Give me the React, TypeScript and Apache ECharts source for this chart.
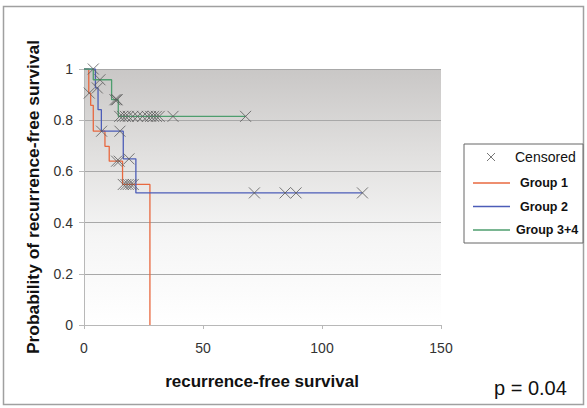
import React, { useEffect, useRef } from "react";
import * as echarts from "echarts";

// Kaplan-Meier step points (time, survival)
const group1Times = [0, 2.0, 2.8, 3.9, 8.8, 10.6, 16.2, 27.7];
const group1Surv = [1, 0.906, 0.858, 0.757, 0.698, 0.64, 0.549, 0];
const group2Times = [0, 4.8, 5.9, 7.3, 16.5, 21.8, 117];
const group2Surv = [1, 0.926, 0.841, 0.757, 0.649, 0.516, 0.516];
const group34Times = [0, 3.9, 11.6, 14.4, 67.9];
const group34Surv = [1, 0.958, 0.88, 0.815, 0.815];

// Censored observations
const cens1Times = [2.2, 13.7, 14.8, 16.5, 17.6, 18.6, 19.7, 20.7];
const cens1Surv = [0.906, 0.64, 0.64, 0.549, 0.549, 0.549, 0.549, 0.549];
const cens2Times = [5.6, 7.4, 15.1, 18.9, 71.6, 84.5, 89.1, 117];
const cens2Surv = [0.926, 0.757, 0.757, 0.649, 0.516, 0.516, 0.516, 0.516];
const cens34Times = [3.9, 6.7, 13.0, 13.7, 13.9, 15.0, 16.2, 17.4, 18.6, 20.5, 22.5, 24.6, 26.6, 28.0, 29.2, 30.4, 31.6, 37.4, 67.9];
const cens34Surv = [1, 0.958, 0.88, 0.88, 0.88, 0.815, 0.815, 0.815, 0.815, 0.815, 0.815, 0.815, 0.815, 0.815, 0.815, 0.815, 0.815, 0.815, 0.815];

const xTicks = [0, 50, 100, 150];
const yTicks = [0, 0.2, 0.4, 0.6, 0.8, 1];

const seriesNames = ["Group 1", "Group 2", "Group 3+4"];
const seriesColors = ["#e8683f", "#4c5db8", "#4e9e6e"];

const zip = (a: number[], b: number[]) => a.map((v, i) => [v, b[i]]);

const FONT = "'Liberation Sans', Arial, sans-serif";

export default function App() {
  const ref = useRef<HTMLDivElement>(null);
  useEffect(() => {
    if (!ref.current) return;
    const chart = echarts.init(ref.current, undefined, { renderer: "svg" });
    const censored = [
      ...zip(cens1Times, cens1Surv),
      ...zip(cens2Times, cens2Surv),
      ...zip(cens34Times, cens34Surv),
    ];
    const lines = [
      zip(group1Times, group1Surv),
      zip(group2Times, group2Surv),
      zip(group34Times, group34Surv),
    ];
    const legendRows = [
      { y: 183, x: 520, name: seriesNames[0], color: seriesColors[0] },
      { y: 206.5, x: 520, name: seriesNames[1], color: seriesColors[1] },
      { y: 230, x: 516, name: seriesNames[2], color: seriesColors[2] },
    ];
    chart.setOption({
      animation: false,
      backgroundColor: "#ffffff",
      textStyle: { fontFamily: FONT },
      grid: {
        left: 84,
        right: 146,
        top: 69,
        bottom: 83,
        show: true,
        borderWidth: 0,
        backgroundColor: new echarts.graphic.LinearGradient(0, 0, 0, 1, [
          { offset: 0, color: "#c9c7c6" },
          { offset: 0.35, color: "#e2e1e0" },
          { offset: 0.65, color: "#f5f5f5" },
          { offset: 1, color: "#ffffff" },
        ]),
      },
      xAxis: {
        type: "value",
        min: 0,
        max: 150,
        interval: 50,
        axisLine: { show: true, lineStyle: { color: "#b8b8b8", width: 1 } },
        axisTick: { show: true, length: 4, lineStyle: { color: "#b8b8b8" } },
        splitLine: { show: false },
        axisLabel: {
          color: "#333",
          fontSize: 14,
          fontFamily: FONT,
          margin: 16,
          formatter: (v: number) => (xTicks.includes(v) ? String(v) : ""),
        },
      },
      yAxis: {
        type: "value",
        min: 0,
        max: 1,
        interval: 0.2,
        axisLine: { show: true, lineStyle: { color: "#b8b8b8", width: 1 } },
        axisTick: { show: true, length: 5, lineStyle: { color: "#b8b8b8" } },
        splitLine: {
          show: true,
          lineStyle: { color: "#a8a8a8", width: 1 },
        },
        axisLabel: {
          color: "#333",
          fontSize: 14,
          fontFamily: FONT,
          margin: 11,
          formatter: (v: number) => {
            const t = yTicks.find((y) => Math.abs(y - v) < 1e-6);
            return t === undefined ? "" : String(Math.round(t * 10) / 10);
          },
        },
      },
      series: [
        ...lines.map((d, i) => ({
          type: "line",
          name: seriesNames[i],
          data: d,
          step: "end",
          symbol: "none",
          lineStyle: { color: seriesColors[i], width: 1.3 },
          z: 2,
        })),
        {
          type: "scatter",
          name: "Censored",
          data: censored,
          symbol: "path://M0,0L10,10M10,0L0,10",
          symbolSize: 11,
          itemStyle: { color: "none", borderColor: "#5a5a5a", borderWidth: 1 },
          z: 3,
        },
      ],
      graphic: [
        {
          type: "rect",
          shape: { x: 3.5, y: 6.5, width: 580, height: 398 },
          style: { fill: "none", stroke: "#a0a0a0", lineWidth: 1.5 },
          silent: true,
        },
        {
          type: "rect",
          shape: { x: 464, y: 144, width: 119, height: 99 },
          style: { fill: "#ffffff", stroke: "#666", lineWidth: 1 },
          silent: true,
        },
        {
          type: "line",
          shape: { x1: 487, y1: 153, x2: 495, y2: 161 },
          style: { stroke: "#777", lineWidth: 1 },
        },
        {
          type: "line",
          shape: { x1: 495, y1: 153, x2: 487, y2: 161 },
          style: { stroke: "#777", lineWidth: 1 },
        },
        {
          type: "text",
          x: 515,
          y: 157,
          style: {
            text: "Censored",
            fill: "#111",
            font: `14px ${FONT}`,
            textAlign: "left",
            textVerticalAlign: "middle",
          },
        },
        ...legendRows.flatMap((r) => [
          {
            type: "line",
            shape: { x1: 473, y1: r.y, x2: 510, y2: r.y },
            style: { stroke: r.color, lineWidth: 1.3 },
          },
          {
            type: "text",
            x: r.x,
            y: r.y,
            style: {
              text: r.name,
              fill: "#111",
              font: `bold 12.5px ${FONT}`,
              textAlign: "left",
              textVerticalAlign: "middle",
            },
          },
        ]),
        {
          type: "text",
          x: 33,
          y: 197,
          rotation: Math.PI / 2,
          style: {
            text: "Probability of recurrence-free survival",
            fill: "#111",
            font: `bold 17.4px ${FONT}`,
            textAlign: "center",
            textVerticalAlign: "middle",
          },
        },
        {
          type: "text",
          x: 262,
          y: 381,
          style: {
            text: "recurrence-free survival",
            fill: "#111",
            font: `bold 17px ${FONT}`,
            textAlign: "center",
            textVerticalAlign: "middle",
          },
        },
        {
          type: "text",
          x: 494,
          y: 388,
          style: {
            text: "p = 0.04",
            fill: "#111",
            font: `20px ${FONT}`,
            textAlign: "left",
            textVerticalAlign: "middle",
          },
        },
      ],
    });
    return () => chart.dispose();
  }, []);
  return (
    <div
      ref={ref}
      style={{ position: "fixed", left: 0, top: 0, width: 587, height: 408 }}
    />
  );
}
